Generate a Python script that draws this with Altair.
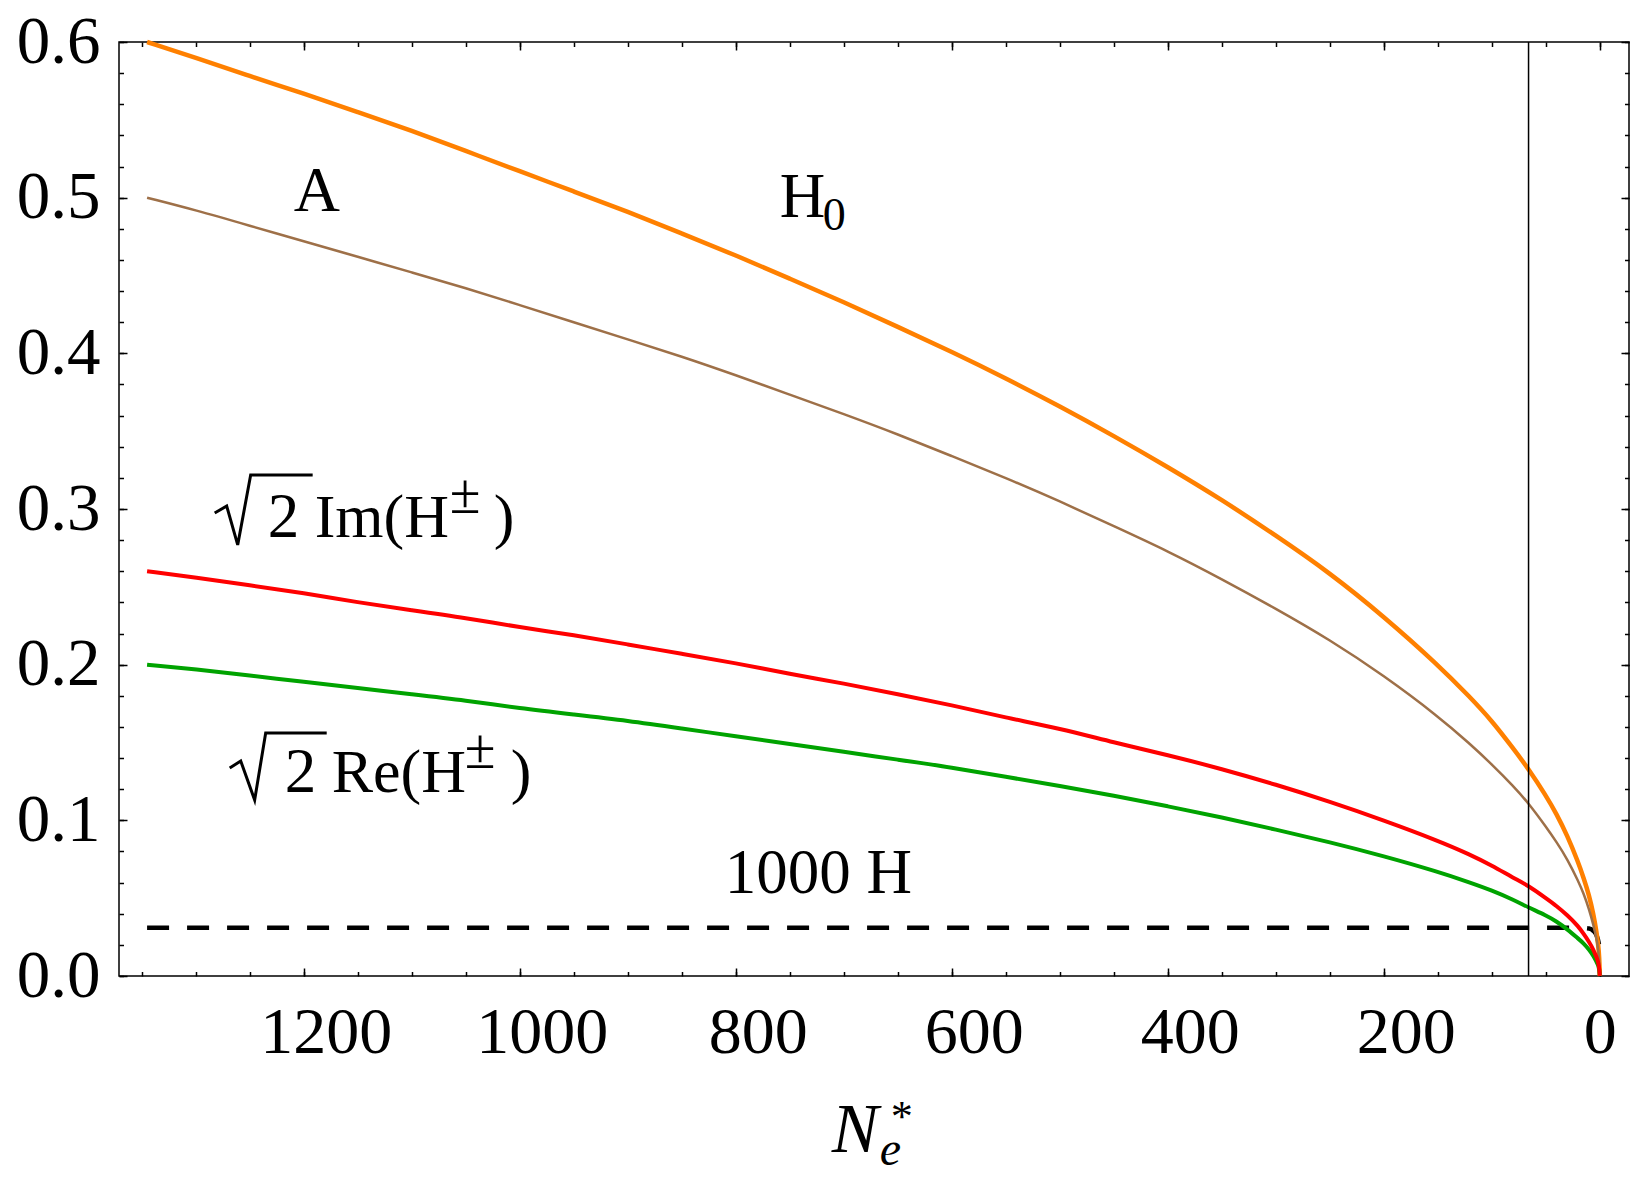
import altair as alt
import pandas as pd

# Number of e-folds N_e* along the horizontal axis (runs from large N down to 0)
n_grid = [1345, 1300, 1250, 1200, 1150, 1100, 1050, 1000, 950, 900,
          850, 800, 750, 700, 650, 600, 550, 500, 450, 400,
          350, 300, 250, 200, 150, 120, 100, 80, 66, 50,
          40, 30, 20, 15, 10, 6, 3, 1.5, 0.5, 0]

# Field amplitudes along the trajectory
h0_vals = [0.600, 0.590, 0.578, 0.567, 0.555, 0.543, 0.530, 0.517, 0.504, 0.491,
           0.477, 0.463, 0.448, 0.433, 0.417, 0.401, 0.384, 0.366, 0.347, 0.327,
           0.306, 0.283, 0.259, 0.231, 0.200, 0.179, 0.164, 0.146, 0.133, 0.116,
           0.104, 0.090, 0.073, 0.063, 0.052, 0.040, 0.028, 0.020, 0.012, 0.0]
a_vals = [0.500, 0.492, 0.482, 0.472, 0.462, 0.452, 0.442, 0.431, 0.420, 0.409,
          0.398, 0.386, 0.3735, 0.361, 0.348, 0.334, 0.320, 0.305, 0.289, 0.273,
          0.255, 0.236, 0.216, 0.193, 0.167, 0.149, 0.136, 0.122, 0.111, 0.096,
          0.086, 0.075, 0.061, 0.053, 0.043, 0.033, 0.024, 0.017, 0.010, 0.0]
im_vals = [0.260, 0.256, 0.251, 0.246, 0.240, 0.235, 0.230, 0.224, 0.219, 0.213,
           0.207, 0.201, 0.194, 0.188, 0.181, 0.174, 0.166, 0.159, 0.150, 0.142,
           0.133, 0.123, 0.112, 0.100, 0.087, 0.078, 0.071, 0.063, 0.058, 0.050,
           0.045, 0.039, 0.032, 0.027, 0.022, 0.017, 0.012, 0.009, 0.005, 0.0]
re_vals = [0.200, 0.197, 0.193, 0.189, 0.185, 0.181, 0.177, 0.172, 0.168, 0.164,
           0.159, 0.154, 0.149, 0.144, 0.139, 0.134, 0.128, 0.122, 0.116, 0.109,
           0.102, 0.094, 0.086, 0.077, 0.067, 0.060, 0.055, 0.049, 0.044, 0.039,
           0.035, 0.030, 0.024, 0.021, 0.017, 0.013, 0.009, 0.007, 0.004, 0.0]

# 1000 x Hubble rate
h_n = [1345, 800, 400, 100, 20, 10, 6, 3, 1, 0.4]
h_vals = [0.031, 0.031, 0.031, 0.031, 0.031, 0.0305, 0.029, 0.026, 0.021, 0.018]

# Vertical marker (horizon exit of the pivot scale)
marker_n = [66]

# Tick values
x_major = [0, 200, 400, 600, 800, 1000, 1200]
x_minor = list(range(0, 1400, 50))
y_major = [0.0, 0.1, 0.2, 0.3, 0.4, 0.5, 0.6]
y_minor = [round(0.02 * i, 2) for i in range(31)]

# Curve annotations: text, N position, value position, font size
label_text = ["A", "H", "0",
              "2", "Im(H", "\u00b1", ")",
              "2", "Re(H", "\u00b1", ")",
              "1000 H"]
label_n = [1209.3, 759.3, 719.4,
           1233.3, 1189.8, 1064.8, 1024.1,
           1217.6, 1174.1, 1051.0, 1008.3,
           810.2]
label_v = [0.4914, 0.4876, 0.4792,
           0.2820, 0.2820, 0.2974, 0.2820,
           0.1182, 0.1182, 0.1336, 0.1182,
           0.0533]
label_size = [64, 63, 46,
              63, 62, 56, 62,
              63, 62, 56, 62,
              63]

# Square-root signs drawn as strokes: group, point order, N, value
root_group = ["im"] * 5 + ["re"] * 5
root_order = [0, 1, 2, 3, 4] * 2
root_n = [1282.4, 1271.3, 1261.1, 1249.1, 1191.7,
          1268.5, 1258.3, 1245.4, 1235.2, 1178.7]
root_v = [0.2974, 0.3019, 0.2769, 0.3218, 0.3218,
          0.1336, 0.1381, 0.1131, 0.1561, 0.1561]

# Axis title pieces: N (italic), subscript e, superscript *
title_text = ["N", "e", "*"]
title_n = [711.1, 666.7, 658.3]
title_v = [-0.1131, -0.1214, -0.0995]
title_size = [70, 48, 44]

FONT = "Liberation Serif"

curves = pd.DataFrame({"n": n_grid, "h0": h0_vals, "a": a_vals, "im": im_vals, "re": re_vals})
hdf = pd.DataFrame({"n": h_n, "v": h_vals})
mdf = pd.DataFrame({"n": marker_n})
ldf = pd.DataFrame({"text": label_text, "n": label_n, "v": label_v, "size": label_size})
rdf = pd.DataFrame({"g": root_group, "o": root_order, "n": root_n, "v": root_v})
tdf = pd.DataFrame({"text": title_text, "n": title_n, "v": title_v, "size": title_size})

xs = alt.Scale(domain=[-27, 1371], reverse=True, nice=False, zero=False)
ys = alt.Scale(domain=[0, 0.6], nice=False, zero=False)

tick_common = dict(domain=False, grid=False, title=None, tickColor="black", tickWidth=1.5)


def major_x(orient, labels):
    return alt.Axis(orient=orient, values=x_major, tickSize=8, offset=-8, labels=labels, format="d",
                    labelFont=FONT, labelFontSize=66, labelColor="black", labelPadding=24,
                    labelOffset={"condition": {"test": "datum.value == 0", "value": 0}, "value": 22},
                    labelFlush=False, labelOverlap=False, **tick_common)


def minor_x(orient):
    return alt.Axis(orient=orient, values=x_minor, tickSize=4.5, offset=-4.5, labels=False, **tick_common)


def major_y(orient, labels):
    return alt.Axis(orient=orient, values=y_major, tickSize=8, offset=-8, labels=labels, format=".1f",
                    labelFont=FONT, labelFontSize=67, labelColor="black", labelPadding=19,
                    labelFlush=False, labelOverlap=False, **tick_common)


def minor_y(orient):
    return alt.Axis(orient=orient, values=y_minor, tickSize=4.5, offset=-4.5, labels=False, **tick_common)


base = alt.Chart(curves)
CURVE = "basis"

h_line = alt.Chart(hdf).mark_line(color="black", strokeWidth=4.5, strokeDash=[22, 18],
                                  interpolate="monotone").encode(
    x=alt.X("n:Q", scale=xs, axis=None), y=alt.Y("v:Q", scale=ys, axis=None))

h0_line = base.mark_line(color="#ff8000", strokeWidth=4.5, interpolate=CURVE).encode(
    x=alt.X("n:Q", scale=xs, axis=major_x("bottom", True)),
    y=alt.Y("h0:Q", scale=ys, axis=major_y("left", True)))

a_line = base.mark_line(color="#9e7048", strokeWidth=2.5, interpolate=CURVE).encode(
    x=alt.X("n:Q", scale=xs, axis=minor_x("bottom")),
    y=alt.Y("a:Q", scale=ys, axis=minor_y("left")))

re_line = base.mark_line(color="#00a300", strokeWidth=4, interpolate=CURVE).encode(
    x=alt.X("n:Q", scale=xs, axis=major_x("top", False)),
    y=alt.Y("re:Q", scale=ys, axis=major_y("right", False)))

im_line = base.mark_line(color="#ff0000", strokeWidth=4, interpolate=CURVE).encode(
    x=alt.X("n:Q", scale=xs, axis=minor_x("top")),
    y=alt.Y("im:Q", scale=ys, axis=minor_y("right")))

marker = alt.Chart(mdf).mark_rule(color="black", strokeWidth=1.5).encode(
    x=alt.X("n:Q", scale=xs, axis=None))

labels = alt.Chart(ldf).mark_text(align="left", baseline="alphabetic", font=FONT, color="black").encode(
    x=alt.X("n:Q", scale=xs, axis=None), y=alt.Y("v:Q", scale=ys, axis=None),
    text="text:N", size=alt.Size("size:Q", scale=None, legend=None))

roots = alt.Chart(rdf).mark_line(color="black", strokeWidth=3, strokeJoin="miter").encode(
    x=alt.X("n:Q", scale=xs, axis=None), y=alt.Y("v:Q", scale=ys, axis=None),
    detail="g:N", order="o:Q")

xtitle = alt.Chart(tdf).mark_text(align="left", baseline="alphabetic", font=FONT, fontStyle="italic",
                                  color="black").encode(
    x=alt.X("n:Q", scale=xs, axis=None), y=alt.Y("v:Q", scale=ys, axis=None),
    text="text:N", size=alt.Size("size:Q", scale=None, legend=None))

chart = alt.layer(
    h_line, h0_line, a_line, re_line, im_line, marker, labels, roots, xtitle
).resolve_axis(
    x="independent", y="independent"
).properties(
    width=1510, height=934,
    autosize=alt.AutoSizeParams(type="none"),
    padding={"left": 119, "top": 42, "right": 20, "bottom": 201},
    background="white",
).configure_view(
    stroke="black", strokeWidth=1.5
)

chart.save("out.html", embed_options={"renderer": "svg", "actions": False})
